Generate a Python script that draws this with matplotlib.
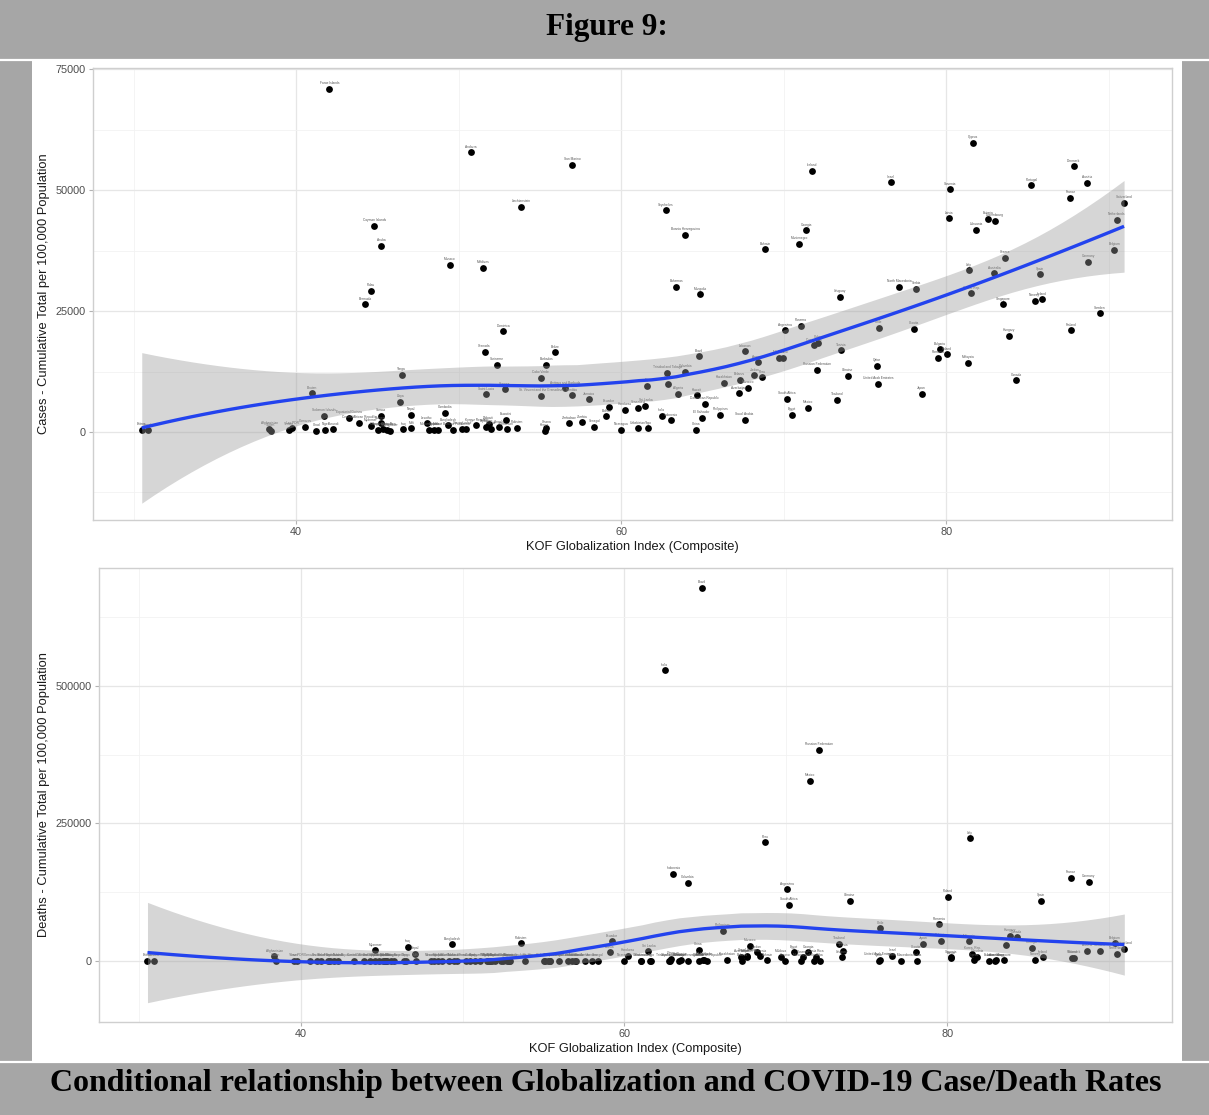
import numpy as np
import matplotlib
matplotlib.use("Agg")
import matplotlib.pyplot as plt
from matplotlib.lines import Line2D
from matplotlib.patches import Rectangle
from matplotlib.ticker import FixedLocator

# ---------------- data ----------------
countries = [
    "Eritrea", "Somalia", "Afghanistan", "Sudan", "Yemen", "Lao PDR", "Comoros", "Bhutan", "Chad", "Solomon Islands",
    "Niger", "Faroe Islands", "Burundi", "Equatorial Guinea", "Central African Republic", "Bermuda", "Palau", "Myanmar", "Cayman Islands", "Tanzania",
    "Samoa", "Guinea", "Aruba", "Congo, Dem. Rep.", "Ethiopia", "Madagascar", "Libya", "Tonga", "Iraq", "Nepal",
    "Mali", "Lesotho", "Mozambique", "Uganda", "Malawi", "Cambodia", "Bangladesh", "Monaco", "Burkina Faso", "Sierra Leone",
    "Liberia", "Andorra", "Kyrgyz Republic", "Maldives", "Grenada", "Saint Lucia", "Tajikistan", "Djibouti", "Nigeria", "Suriname",
    "Angola", "Dominica", "Guyana", "Eswatini", "Cameroon", "Pakistan", "Liechtenstein", "Cabo Verde", "St. Vincent and the Grenadines", "Kenya",
    "Ghana", "Barbados", "Belize", "Antigua and Barbuda", "Zimbabwe", "Namibia", "San Marino", "Zambia", "Jamaica", "Senegal",
    "Bolivia", "Ecuador", "Nicaragua", "Honduras", "Venezuela", "Uzbekistan", "Sri Lanka", "Fiji", "Togo", "India",
    "Seychelles", "Trinidad and Tobago", "Oman", "Indonesia", "Bahamas", "Algeria", "Bosnia Herzegovina", "Colombia", "China", "Kuwait",
    "Brazil", "Mongolia", "El Salvador", "Dominican Republic", "Philippines", "Kazakhstan", "Azerbaijan", "Belarus", "Lebanon", "Saudi Arabia",
    "Morocco", "Jordan", "Armenia", "Peru", "Bahrain", "Moldova", "Kosovo", "Argentina", "South Africa", "Egypt",
    "Montenegro", "Panama", "Georgia", "Mexico", "Iceland", "Costa Rica", "Russian Federation", "Cuba", "Thailand", "Uruguay",
    "Tunisia", "Ukraine", "Qatar", "United Arab Emirates", "Chile", "Israel", "North Macedonia", "Croatia", "Serbia", "Japan",
    "Romania", "Bulgaria", "Poland", "Latvia", "Slovenia", "Malaysia", "Italy", "Korea, Rep.", "Cyprus", "Lithuania",
    "Estonia", "Australia", "Luxembourg", "Singapore", "Greece", "Hungary", "Canada", "Portugal", "Norway", "Spain",
    "Ireland", "France", "Finland", "Denmark", "Austria", "Germany", "Sweden", "Belgium", "Netherlands", "Switzerland",
]
kof = [
    30.5, 30.9, 38.35, 38.45, 39.55, 39.75, 40.55, 41.0, 41.25, 41.7,
    41.8, 42.05, 42.3, 43.25, 43.9, 44.25, 44.6, 44.6, 44.8, 45.05,
    45.2, 45.2, 45.25, 45.35, 45.6, 45.75, 46.4, 46.5, 46.6, 47.05,
    47.1, 48.05, 48.2, 48.5, 48.75, 49.15, 49.35, 49.45, 49.65, 50.2,
    50.45, 50.75, 51.1, 51.5, 51.6, 51.7, 51.7, 51.85, 52.0, 52.35,
    52.5, 52.75, 52.85, 52.9, 52.95, 53.6, 53.85, 55.05, 55.1, 55.3,
    55.4, 55.4, 55.95, 56.55, 56.8, 56.95, 57.0, 57.6, 58.0, 58.35,
    59.1, 59.25, 60.0, 60.25, 61.05, 61.05, 61.5, 61.6, 61.65, 62.5,
    62.75, 62.85, 62.9, 63.05, 63.4, 63.5, 63.95, 63.95, 64.6, 64.65,
    64.8, 64.85, 64.95, 65.15, 66.1, 66.35, 67.25, 67.3, 67.6, 67.6,
    67.8, 68.2, 68.4, 68.7, 68.85, 69.7, 69.95, 70.1, 70.2, 70.5,
    70.95, 71.05, 71.4, 71.5, 71.75, 71.85, 72.05, 72.1, 73.3, 73.45,
    73.55, 73.95, 75.75, 75.8, 75.85, 76.6, 77.1, 78.05, 78.15, 78.5,
    79.5, 79.6, 80.05, 80.2, 80.25, 81.35, 81.4, 81.55, 81.65, 81.85,
    82.6, 82.95, 83.0, 83.5, 83.65, 83.85, 84.3, 85.25, 85.45, 85.8,
    85.9, 87.65, 87.7, 87.85, 88.65, 88.75, 89.45, 90.35, 90.5, 90.95,
]
cases = [
    400, 350, 620, 250, 500, 760, 1100, 8000, 270, 3300,
    410, 71000, 550, 2960, 1930, 26440, 29270, 1300, 42600, 410,
    3370, 1800, 38500, 600, 410, 300, 6260, 11840, 600, 3500,
    760, 1800, 410, 410, 410, 4000, 1380, 34570, 410, 620,
    550, 57850, 1380, 34000, 16600, 7780, 1100, 1650, 620, 13900,
    960, 20800, 8820, 2480, 550, 900, 46550, 11220, 7500, 270,
    830, 13900, 16460, 9030, 1800, 7580, 55300, 2000, 6750, 1030,
    3240, 5230, 410, 4540, 5020, 760, 5440, 9570, 760, 3380,
    45900, 12250, 9920, 2410, 30100, 7850, 40840, 12460, 480, 7570,
    15640, 28500, 2960, 5850, 3580, 10190, 7990, 10740, 16730, 2480,
    9160, 11710, 14460, 11300, 37800, 15350, 15350, 21000, 6890, 3510,
    38900, 21970, 41740, 5020, 54000, 17900, 12810, 18450, 6680, 27960,
    16880, 11640, 13640, 9920, 21550, 51650, 30020, 21350, 29600, 7850,
    15350, 17080, 16050, 44200, 50200, 14320, 33470, 28720, 59850, 41870,
    44150, 32850, 43660, 26380, 36010, 19900, 10680, 51000, 27130, 32640,
    27480, 48400, 21070, 54950, 51500, 35190, 24590, 37670, 43860, 47450,
]
deaths = [
    0, 0, 8500, 0, 0, 0, 0, 0, 0, 0,
    0, 0, 0, 0, 0, 0, 0, 19600, 0, 0,
    0, 0, 0, 0, 0, 0, 0, 0, 25600, 13500,
    0, 0, 0, 0, 0, 0, 30000, 0, 0, 0,
    0, 0, 0, 0, 0, 0, 0, 0, 0, 0,
    0, 0, 0, 0, 0, 31800, 0, 0, 0, 0,
    0, 0, 0, 0, 0, 0, 0, 0, 0, 0,
    16000, 36000, 0, 9500, 0, 0, 17500, 0, 0, 528500,
    0, 0, 4200, 158000, 0, 2000, 0, 141800, 20000, 0,
    678000, 2200, 2200, 0, 55000, 2200, 7600, 0, 7600, 9000,
    27800, 15600, 8600, 216000, 1400, 7600, 0, 130000, 102500, 15600,
    0, 6500, 15600, 327800, 0, 7600, 384000, 0, 30900, 6500,
    18700, 109000, 600, 2300, 59100, 9500, 0, 15600, 0, 30900,
    66500, 37000, 117000, 4500, 6500, 36000, 223000, 12700, 1200, 7600,
    0, 0, 1000, 1300, 29800, 46200, 43200, 23600, 1800, 109000,
    6500, 150900, 5300, 5300, 18700, 143600, 18700, 32200, 12500, 21800,
]
assert len(countries) == len(kof) == len(cases) == len(deaths)

x_ticks = [40, 60, 80]
cases_ticks = [0, 25000, 50000, 75000]
deaths_ticks = [0, 250000, 500000]
x_title = "KOF Globalization Index (Composite)"
y_title_cases = "Cases - Cumulative Total per 100,000 Population"
y_title_deaths = "Deaths - Cumulative Total per 100,000 Population"
fig_title = "Figure 9:"
fig_caption = "Conditional relationship between Globalization and COVID-19 Case/Death Rates"


# ---------------- loess smoother (like geom_smooth) ----------------
def _t975(df):
    z = 1.959963985
    g1 = (z**3 + z) / 4
    g2 = (5 * z**5 + 16 * z**3 + 3 * z) / 96
    return z + g1 / df + g2 / df**2


def loess_smooth(x, y, span=0.75, ngrid=80):
    x = np.asarray(x, float)
    y = np.asarray(y, float)
    n = len(x)
    q = int(np.floor(n * span))

    def row(x0):
        d = np.abs(x - x0)
        h = np.sort(d)[q - 1]
        w = np.clip(1 - (d / h) ** 3, 0, None) ** 3
        X = np.column_stack([np.ones(n), x - x0, (x - x0) ** 2])
        XtW = X.T * w
        return np.linalg.solve(XtW @ X, XtW)[0]

    Ld = np.array([row(v) for v in x])
    res = y - Ld @ y
    M = (np.eye(n) - Ld).T @ (np.eye(n) - Ld)
    d1 = np.trace(M)
    d2 = np.trace(M @ M)
    s = np.sqrt(np.sum(res**2) / d1)
    df = d1**2 / d2
    grid = np.linspace(x.min(), x.max(), ngrid)
    Lg = np.array([row(g) for g in grid])
    fit = Lg @ y
    se = s * np.sqrt(np.sum(Lg**2, axis=1))
    t = _t975(df)
    return grid, fit, fit - t * se, fit + t * se


# ---------------- figure ----------------
W, H = 1209, 1115
fig = plt.figure(figsize=(W / 100, H / 100), dpi=100)
fig.patch.set_facecolor("#a6a6a6")


def fx(px):
    return px / W


def fy(py):
    return 1 - py / H


# white chart area and white table borders
fig.add_artist(Rectangle((fx(32), fy(1061)), fx(1182) - fx(32), fy(61) - fy(1061),
                         transform=fig.transFigure, facecolor="white", edgecolor="none", zorder=0))
for yy in (60, 1062):
    fig.add_artist(Line2D([0, 1], [fy(yy), fy(yy)], transform=fig.transFigure,
                          color="white", lw=1.6, zorder=1))

serif = ["Liberation Serif", "DejaVu Serif"]
fig.text(fx(607), fy(28), fig_title, ha="center", va="center", fontsize=22.5,
         fontweight="bold", family=serif)
fig.text(fx(606), fy(1084), fig_caption, ha="center", va="center", fontsize=23,
         fontweight="bold", family=serif)

sans = ["Liberation Sans", "DejaVu Sans"]


def draw_panel(rect, yvals, yticks, ylim, minor_y, ytitle):
    ax = fig.add_axes(rect)
    ax.set_facecolor("white")
    ax.set_xlim(27.5, 93.9)
    ax.set_ylim(*ylim)
    ax.xaxis.set_major_locator(FixedLocator(x_ticks))
    ax.yaxis.set_major_locator(FixedLocator(yticks))
    ax.xaxis.set_minor_locator(FixedLocator([30, 50, 70, 90]))
    ax.yaxis.set_minor_locator(FixedLocator(minor_y))
    ax.grid(which="major", color="#e6e6e6", lw=0.9)
    ax.grid(which="minor", color="#f2f2f2", lw=0.6)
    ax.set_axisbelow(True)
    for sp in ax.spines.values():
        sp.set_color("#cfcfcf")
        sp.set_linewidth(1.0)
    ax.tick_params(which="major", length=3, width=0.8, color="#b3b3b3",
                   labelsize=7.8, labelcolor="#4d4d4d", pad=2)
    ax.tick_params(which="minor", length=0)
    for lab in ax.get_xticklabels() + ax.get_yticklabels():
        lab.set_family(sans)
    ax.set_xlabel(x_title, fontsize=9.3, family=sans, color="#1a1a1a", labelpad=3)
    ax.set_ylabel(ytitle, fontsize=9.3, family=sans, color="#1a1a1a", labelpad=4)

    ax.scatter(kof, yvals, s=24, color="black", linewidths=0, zorder=2)
    for name, xv, yv in zip(countries, kof, yvals):
        ax.annotate(name, (xv, yv), xytext=(0, 2.6), textcoords="offset points",
                    ha="center", va="bottom", fontsize=2.3, color="#555555",
                    family=sans, zorder=3)
    gx, gfit, glo, ghi = loess_smooth(kof, yvals)
    ax.fill_between(gx, glo, ghi, color="#999999", alpha=0.4, linewidth=0, zorder=4)
    ax.plot(gx, gfit, color="#2343ee", lw=2.4, zorder=5, solid_capstyle="butt")
    return ax


# top panel: x 93..1172, y 68..520 px
draw_panel([fx(93), fy(520), fx(1172) - fx(93), fy(68) - fy(520)],
           cases, cases_ticks, (-18200, 75300), [-12500, 12500, 37500, 62500], y_title_cases)
# bottom panel: x 99..1172, y 568..1022 px
draw_panel([fx(99), fy(1022), fx(1172) - fx(99), fy(568) - fy(1022)],
           deaths, deaths_ticks, (-111000, 714500), [125000, 375000, 625000], y_title_deaths)

fig.savefig("out.png", dpi=100, facecolor=fig.get_facecolor())
